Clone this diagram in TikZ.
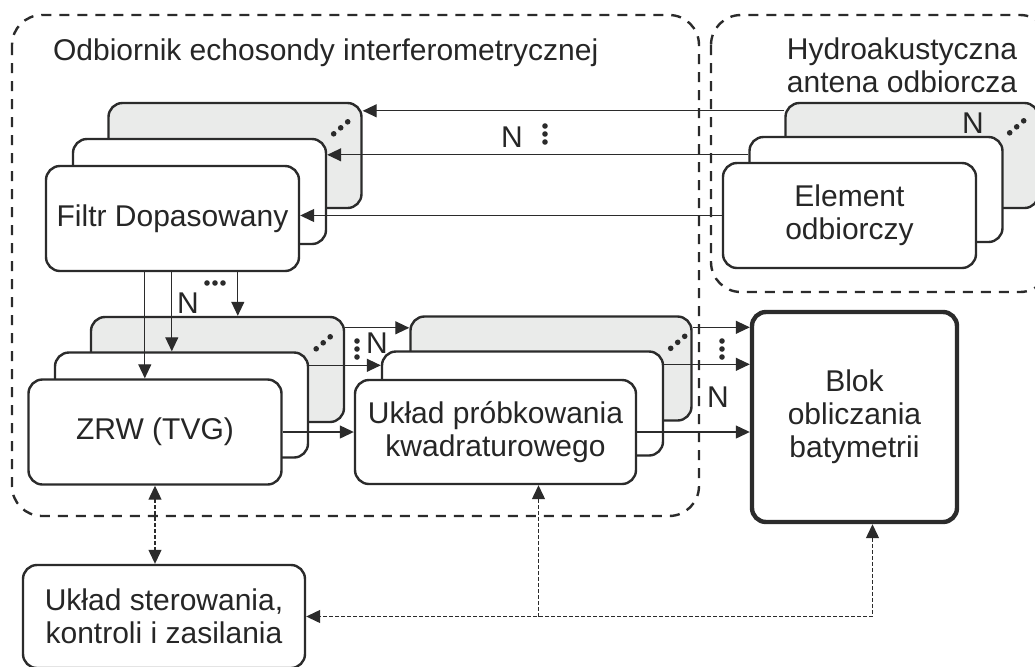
\documentclass[tikz,border=0pt]{standalone}
\usepackage{fontspec}
\setmainfont{Liberation Sans}
\usetikzlibrary{arrows.meta}
\definecolor{linec}{HTML}{2B2B2B}
\definecolor{grayc}{HTML}{EAEBEA}
\definecolor{textc}{HTML}{262626}
\tikzset{
  blok/.style={draw=linec, line width=1.2pt, rounded corners=7pt, fill=white,
    minimum width=126.5pt, minimum height=52.5pt, inner sep=0pt, align=center},
  tlo/.style={blok, fill=grayc},
  szer/.style={minimum width=140.5pt, minimum height=52pt},
  ramka/.style={draw=linec, line width=1.2pt, dash pattern=on 5pt off 4pt, rounded corners=15pt},
  grot/.tip={Triangle[length=7pt,width=6.5pt]},
  strz/.style={draw=linec, line width=0.6pt, -grot},
  ster/.style={draw=linec, line width=0.6pt, dash pattern=on 2pt off 1pt},
  kropkiV/.pic={\foreach \d in {-8,0,8} \fill[linec] (0,\d) circle (1.4pt);},
  kropkiH/.pic={\foreach \d in {-8,0,8} \fill[linec] (\d,0) circle (1.4pt);},
  kropkiD/.pic={\foreach \dx/\dy in {-7/6,0/0,7/-6} \fill[linec] (\dx,\dy) circle (1.4pt);}
}
\begin{document}
\begin{tikzpicture}  % ------ Odbiornik echosondy --------------
      [x=0.5pt,y=-0.5pt,text=textc,font=\fontsize{15}{16.5}\selectfont]
    \useasboundingbox (0,0) rectangle (1035,666);

    % ramki
    \draw[ramka] (12,15) rectangle (699,516);
    \draw[ramka] (711,15) rectangle (1050,292);
    \node[anchor=west] (odbT) at (46,53) {Odbiornik echosondy interferometrycznej};
    \node[align=center] (hydT) at (902,65) {Hydroakustyczna\\antena odbiorcza};

    % antena
    \node[tlo]  (E3) at (912,155.5) {};
    \node[blok] (E2) at (876,189.5) {};
    \node[blok] (E1) at (849.5,215.5) {Element\\odbiorczy};

    % filtr
    \node[tlo]  (F3) at (235,155.5) {};
    \node[blok] (F2) at (199.5,191.5) {};
    \node[blok] (F1) at (172.5,218.5) {Filtr Dopasowany};

    % ZRW
    \node[tlo]  (Z3) at (217.5,369.5) {};
    \node[blok] (Z2) at (181.5,405) {};
    \node[blok] (Z1) at (155,432) {ZRW (TVG)};

    % probkowanie
    \node[tlo,szer]  (K3) at (551,368.5) {};
    \node[blok,szer] (K2) at (522.5,403.5) {};
    \node[blok,szer] (K1) at (495.5,432) {Układ próbkowania\\kwadraturowego};

    \node[blok, line width=2.2pt, minimum width=102.5pt, minimum height=105pt]
         (B) at (854.5,417) {Blok\\obliczania\\batymetrii};
    \node[blok, minimum width=141pt, minimum height=51.5pt]
         (S) at (164,616.5) {Układ sterowania,\\kontroli i zasilania};

    % kropki
    \pic at ([shift={(-22,26)}]F3.north east) {kropkiD};
    \pic at ([shift={(-23,25)}]E3.north east) {kropkiD};
    \pic at ([shift={(-22,27)}]Z3.north east) {kropkiD};
    \pic at ([shift={(-15,27)}]K3.north east) {kropkiD};
    \node (nE) at (973,123) {N};

    % antena -> filtr
    \draw[strz] ([yshift=-4.5pt]E3.north west) -- ([yshift=-4.5pt]F3.north east);
    \draw[strz] ([yshift=-9.5pt]E2.north west) coordinate (e2) -- (e2 -| F2.east);
    \draw[strz] (E1.west) -- (E1.west -| F1.east);
    \node (nA) at (512,137) {N};
    \pic at (545,134) {kropkiV};

    % filtr -> ZRW
    \draw[strz] ([xshift=50pt]F1.south west) coordinate (f1) -- (f1 |- Z1.north);
    \draw[strz] ([xshift=63.5pt]F1.south west) coordinate (f2) -- (f2 |- Z2.north);
    \draw[strz] ([xshift=96.5pt]F1.south west) coordinate (f3) -- (f3 |- Z3.north);
    \node (nF) at (188,303) {N};
    \pic at (215,283) {kropkiH};

    % ZRW -> probkowanie
    \draw[strz] ([yshift=-6pt]Z3.north east) coordinate (z3) -- (z3 -| K3.west);
    \draw[strz] ([yshift=-7pt]Z2.north east) coordinate (z2) -- (z2 -| K2.west);
    \draw[strz] (Z1.east) -- (Z1.east -| K1.west);
    \node (nZ) at (377,343) {N};
    \pic at (357,349) {kropkiV};

    % probkowanie -> blok
    \draw[strz] ([yshift=-6pt]K3.north east) coordinate (k3) -- (k3 -| B.west);
    \draw[strz] ([yshift=-7pt]K2.north east) coordinate (k2) -- (k2 -| B.west);
    \draw[strz] (K1.east) -- (K1.east -| B.west);
    \node (nK) at (718,397) {N};
    \pic at (722,349) {kropkiV};

    % sterowanie
    \coordinate (k1s) at ([xshift=21.5pt]K1.south);
    \coordinate (bs) at ([xshift=9pt]B.south);
    \draw[ster, grot-grot] (Z1.south) -- (Z1.south |- S.north);
    \draw[ster, grot-grot] (bs) |- (S.east);
    \draw[ster, -grot] (k1s |- S.east) -- (k1s);
\end{tikzpicture}
\end{document}
